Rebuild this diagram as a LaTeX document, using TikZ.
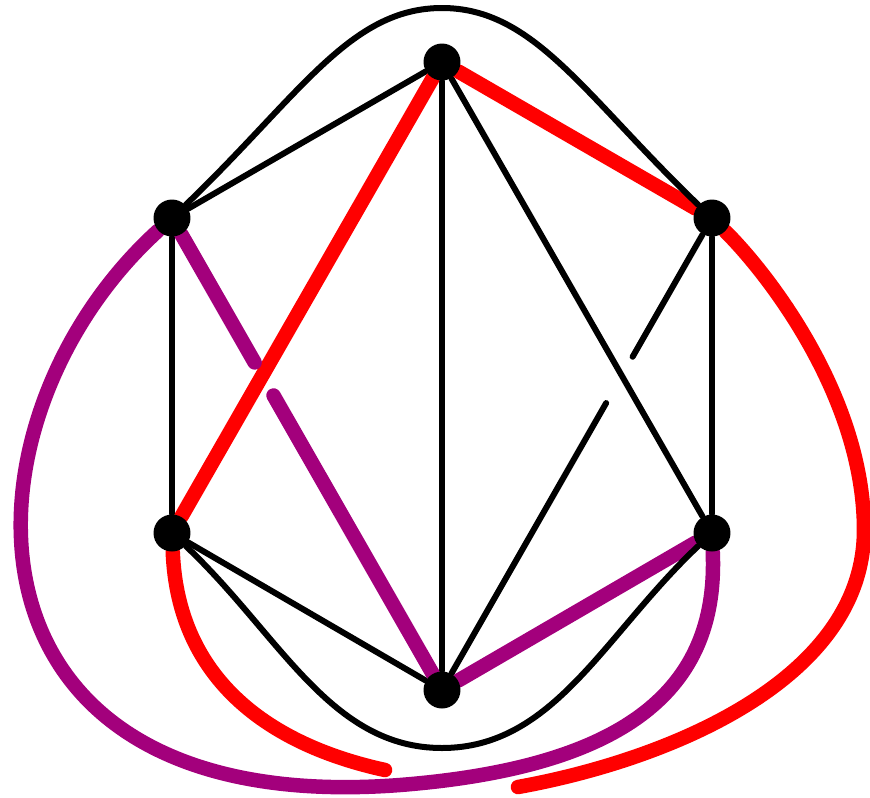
\documentclass[tikz,border=0pt]{standalone}
\usepackage{xcolor}
\usepackage{tikz}
\usetikzlibrary{calc,backgrounds}
\definecolor{knotRed}{RGB}{255,0,0}
\definecolor{knotPurple}{RGB}{163,0,124}

\begin{document}
\begin{tikzpicture}[x=0.1mm,y=-0.1mm,
  vtx/.style={circle,fill=black,inner sep=0pt,minimum size=3.7mm},
  plain/.style={black,line width=0.6mm,line cap=round},
  band/.style={line width=1.45mm,line cap=round,#1}]
  \useasboundingbox (0,0) rectangle (870,798);
  \node[vtx] (T) at (442,62) {};
  \node[vtx] (UL) at (172,218) {};
  \node[vtx] (UR) at (712,218) {};
  \node[vtx] (LL) at (172,533) {};
  \node[vtx] (LR) at (712,533) {};
  \node[vtx] (B) at (442,690) {};
  \coordinate (rA) at (385,770);
  \coordinate (rB) at (518,787);
  \begin{scope}[on background layer]
  % straight edges
  \draw[plain] (T) -- (UL);
  \draw[plain] (T) -- (B);
  \draw[plain] (T) -- (LR);
  \draw[plain] (UL) -- (LL);
  \draw[plain] (UR) -- (LR);
  \draw[plain] (LL) -- (B);
  \draw[band=knotRed] (T) -- (UR);
  \draw[band=knotRed] (T) -- (LL);
  \draw[band=knotPurple] (B) -- (LR);
  % under-crossings, drawn in two pieces
  \draw[band=knotPurple] (UL) -- ($(UL)!.306!(B)$);
  \draw[band=knotPurple] ($(UL)!.376!(B)$) -- (B);
  \draw[plain] (UR) -- ($(UR)!.294!(B)$);
  \draw[plain] ($(UR)!.392!(B)$) -- (B);
  % outer curves
  \draw[plain] (UL) .. controls (300,95) and (350,8) .. (442,8)
    .. controls (534,8) and (584,95) .. (UR);
  \draw[plain] (LL) .. controls (280,635) and (330,748) .. (442,748)
    .. controls (554,748) and (604,635) .. (LR);
  \draw[band=knotPurple] (UL) .. controls (-50,420) and (-60,820) .. (400,785)
    .. controls (640,766) and (718,680) .. (LR);
  \draw[band=knotRed] (LL) .. controls (178,680) and (270,745) .. (rA);
  \draw[band=knotRed] (rB) .. controls (668,760) and (864,680) .. (864,530)
    .. controls (864,400) and (772,278) .. (UR);
  \end{scope}
\end{tikzpicture}
\end{document}
